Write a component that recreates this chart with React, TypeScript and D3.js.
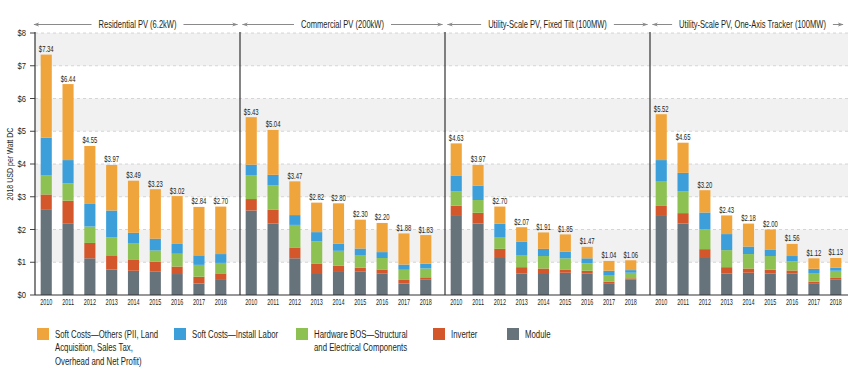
import { useEffect, useRef } from "react"
import * as d3 from "d3"

const years = ["2010", "2011", "2012", "2013", "2014", "2015", "2016", "2017", "2018"]
const panels = [
  "Residential PV (6.2kW)",
  "Commercial PV (200kW)",
  "Utility-Scale PV, Fixed Tilt (100MW)",
  "Utility-Scale PV, One-Axis Tracker (100MW)",
]

// one row per panel, one value per year (2018 USD per Watt DC)
const moduleCost = [
  [2.62, 2.19, 1.12, 0.78, 0.74, 0.71, 0.64, 0.35, 0.46],
  [2.58, 2.18, 1.12, 0.67, 0.73, 0.71, 0.65, 0.35, 0.48],
  [2.44, 2.18, 1.13, 0.66, 0.67, 0.68, 0.65, 0.36, 0.48],
  [2.44, 2.18, 1.13, 0.66, 0.68, 0.66, 0.65, 0.36, 0.48],
]
const inverterCost = [
  [0.45, 0.69, 0.47, 0.43, 0.33, 0.31, 0.23, 0.21, 0.2],
  [0.35, 0.43, 0.33, 0.28, 0.17, 0.12, 0.13, 0.11, 0.06],
  [0.29, 0.33, 0.28, 0.19, 0.14, 0.1, 0.09, 0.05, 0.03],
  [0.28, 0.32, 0.27, 0.19, 0.13, 0.11, 0.1, 0.05, 0.04],
]
const hardwareBos = [
  [0.58, 0.53, 0.5, 0.55, 0.5, 0.34, 0.39, 0.36, 0.32],
  [0.73, 0.74, 0.69, 0.69, 0.45, 0.39, 0.35, 0.31, 0.27],
  [0.44, 0.39, 0.36, 0.37, 0.38, 0.34, 0.23, 0.2, 0.17],
  [0.76, 0.67, 0.61, 0.52, 0.44, 0.42, 0.28, 0.26, 0.22],
]
const installLabor = [
  [1.15, 0.71, 0.69, 0.82, 0.33, 0.36, 0.3, 0.29, 0.27],
  [0.32, 0.32, 0.3, 0.28, 0.22, 0.2, 0.18, 0.16, 0.15],
  [0.48, 0.44, 0.41, 0.41, 0.22, 0.2, 0.15, 0.13, 0.08],
  [0.64, 0.56, 0.51, 0.49, 0.23, 0.2, 0.16, 0.13, 0.09],
]
const softOthers = [
  [2.54, 2.32, 1.77, 1.39, 1.59, 1.51, 1.46, 1.48, 1.45],
  [1.45, 1.37, 1.03, 0.9, 1.23, 0.88, 0.89, 0.95, 0.87],
  [0.98, 0.63, 0.52, 0.44, 0.5, 0.53, 0.35, 0.3, 0.3],
  [1.4, 0.92, 0.68, 0.57, 0.7, 0.61, 0.37, 0.32, 0.3],
]
const totalLabels = [
  ["$7.34", "$6.44", "$4.55", "$3.97", "$3.49", "$3.23", "$3.02", "$2.84", "$2.70"],
  ["$5.43", "$5.04", "$3.47", "$2.82", "$2.80", "$2.30", "$2.20", "$1.88", "$1.83"],
  ["$4.63", "$3.97", "$2.70", "$2.07", "$1.91", "$1.85", "$1.47", "$1.04", "$1.06"],
  ["$5.52", "$4.65", "$3.20", "$2.43", "$2.18", "$2.00", "$1.56", "$1.12", "$1.13"],
]
const yTicks = [0, 1, 2, 3, 4, 5, 6, 7, 8]

const seriesKeys = ["module", "inverter", "hardware", "labor", "others"]
const seriesColors = ["#67737b", "#d4572b", "#8dc152", "#3c9fda", "#f0a43c"]
const legendItems = [
  { key: "others", lines: ["Soft Costs\u2014Others (PII, Land", "Acquisition, Sales Tax,", "Overhead and Net Profit)"] },
  { key: "labor", lines: ["Soft Costs\u2014Install Labor"] },
  { key: "hardware", lines: ["Hardware BOS\u2014Structural", "and Electrical Components"] },
  { key: "inverter", lines: ["Inverter"] },
  { key: "module", lines: ["Module"] },
]
const legendX = [37, 174, 296, 433, 507]

const FONT = "'Liberation Sans', Arial, sans-serif"
const INK = "#231f20"

type Sel = d3.Selection<any, any, any, any>

// narrow text: the original uses a condensed face, so squeeze horizontally
function label(parent: Sel, x: number, y: number, s: string, size: number, sx: number, anchor = "middle") {
  return parent
    .append("text")
    .attr("transform", `translate(${x},${y}) scale(${sx},1)`)
    .attr("text-anchor", anchor)
    .style("font-size", `${size}px`)
    .style("fill", INK)
    .text(s)
}

export default function App() {
  const svgRef = useRef<SVGSVGElement>(null)

  useEffect(() => {
    if (!svgRef.current) return
    const W = 848
    const H = 388
    const svg = d3.select(svgRef.current)
    svg.selectAll("*").remove()
    svg.attr("width", W).attr("height", H).style("font-family", FONT)

    const left = 35
    const y = d3.scaleLinear().domain([0, 8]).range([295, 33])
    const px = d3.scaleBand().domain(panels).range([left, left + 4 * 205])
    const color = d3.scaleOrdinal<string, string>().domain(seriesKeys).range(seriesColors)

    // alternating shaded bands
    svg.append("g")
      .selectAll("rect")
      .data(yTicks.filter((t) => t % 2 === 1))
      .join("rect")
      .attr("x", left)
      .attr("width", W - left)
      .attr("y", (d) => y(d + 1))
      .attr("height", (d) => y(d) - y(d + 1))
      .attr("fill", "#f1f1f1")

    svg.append("g")
      .selectAll("line")
      .data(yTicks.filter((t) => t > 0))
      .join("line")
      .attr("x1", left)
      .attr("x2", W)
      .attr("y1", (d) => y(d))
      .attr("y2", (d) => y(d))
      .attr("stroke", "#cccccc")
      .attr("stroke-width", 0.8)
      .attr("stroke-dasharray", "3,3")

    // y axis ticks + labels
    const ya = svg.append("g")
    yTicks.forEach((t) => {
      ya.append("line")
        .attr("x1", left - 5)
        .attr("x2", left)
        .attr("y1", y(t))
        .attr("y2", y(t))
        .attr("stroke", "#444")
      label(ya, left - 9, y(t) + 3.2, `$${t}`, 9.2, 0.83, "end")
    })

    const yl = svg.append("g").attr("transform", `translate(13,${(y(0) + y(8)) / 2}) rotate(-90)`)
    label(yl, 0, 0, "2018 USD per Watt DC", 9.8, 0.72)

    // arrow marker
    const defs = svg.append("defs")
    defs.append("marker")
      .attr("id", "arr")
      .attr("viewBox", "0 0 10 10")
      .attr("refX", 9)
      .attr("refY", 5)
      .attr("markerWidth", 6)
      .attr("markerHeight", 6)
      .attr("orient", "auto-start-reverse")
      .append("path")
      .attr("d", "M0,1.5 L10,5 L0,8.5 L3,5 Z")
      .attr("fill", "#8a8a8a")

    panels.forEach((title, p) => {
      const p0 = px(title) ?? 0
      const x = d3.scaleBand().domain(years).range([p0, p0 + 197]).paddingInner(0.49).paddingOuter(0.26)
      const g = svg.append("g")

      const rows = years.map((yr, i) => ({
        year: yr,
        module: moduleCost[p][i],
        inverter: inverterCost[p][i],
        hardware: hardwareBos[p][i],
        labor: installLabor[p][i],
        others: softOthers[p][i],
      }))
      const stacked = d3.stack<any>().keys(seriesKeys)(rows)

      g.selectAll("g.series")
        .data(stacked)
        .join("g")
        .attr("class", "series")
        .attr("fill", (s) => color(s.key))
        .selectAll("rect")
        .data((s) => s)
        .join("rect")
        .attr("x", (d) => x(d.data.year) ?? 0)
        .attr("width", x.bandwidth())
        .attr("y", (d) => y(d[1]))
        .attr("height", (d) => y(d[0]) - y(d[1]))

      const top = stacked[stacked.length - 1]
      top.forEach((d, i) => {
        label(g, (x(d.data.year) ?? 0) + x.bandwidth() / 2, y(d[1]) - 2.5, totalLabels[p][i], 8.8, 0.67)
      })

      years.forEach((yr) => {
        label(g, (x(yr) ?? 0) + x.bandwidth() / 2, 304.5, yr, 8.4, 0.65)
      })

      // divider / axis line
      g.append("line")
        .attr("x1", p0)
        .attr("x2", p0)
        .attr("y1", y(8) - 1)
        .attr("y2", y(0))
        .attr("stroke", "#333")
        .attr("stroke-width", 1.2)

      // header title with arrows
      const cx = p0 + 102.5
      const t = label(g, cx, 28, title, 10.5, 0.72)
      const tw = (t.node() as SVGTextElement).getComputedTextLength() * 0.72
      const a0 = p === 0 ? p0 - 1 : p0 + 2.5
      const a1 = Math.min(p0 + 202.5, W - 5)
      g.append("line")
        .attr("x1", cx - tw / 2 - 7).attr("x2", a0)
        .attr("y1", 24.5).attr("y2", 24.5)
        .attr("stroke", "#8a8a8a").attr("stroke-width", 1)
        .attr("marker-end", "url(#arr)")
      g.append("line")
        .attr("x1", cx + tw / 2 + 7).attr("x2", a1)
        .attr("y1", 24.5).attr("y2", 24.5)
        .attr("stroke", "#8a8a8a").attr("stroke-width", 1)
        .attr("marker-end", "url(#arr)")
    })

    // baseline
    svg.append("line")
      .attr("x1", left)
      .attr("x2", W)
      .attr("y1", y(0))
      .attr("y2", y(0))
      .attr("stroke", "#333")
      .attr("stroke-width", 1.2)

    // legend
    const lg = svg.append("g")
    legendItems.forEach((item, i) => {
      const g = lg.append("g").attr("transform", `translate(${legendX[i]},328)`)
      g.append("rect").attr("width", 12).attr("height", 12).attr("fill", color(item.key))
      item.lines.forEach((line, j) => {
        label(g, 18, 9.5 + j * 13.5, line, 11, 0.71, "start")
      })
    })
  }, [])

  return (
    <div style={{ position: "absolute", left: 0, top: 0, background: "#fff" }}>
      <svg ref={svgRef} style={{ display: "block" }} />
    </div>
  )
}
